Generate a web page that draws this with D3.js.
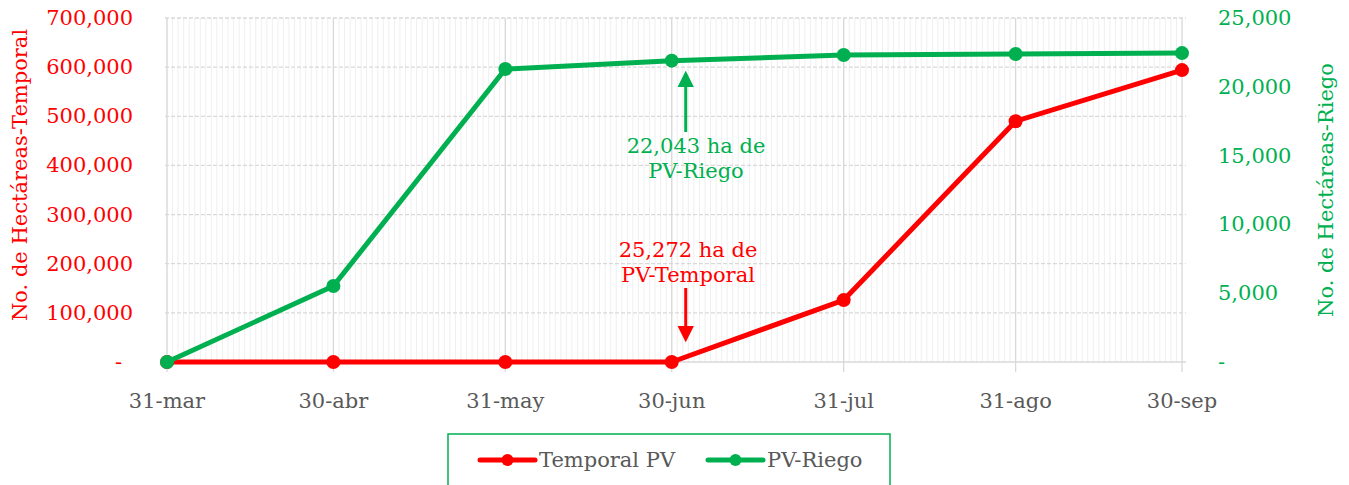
<!DOCTYPE html>
<html lang="es">
<head>
<meta charset="UTF-8">
<title>Temporal PV vs PV-Riego</title>
<script src="https://d3js.org/d3.v7.min.js"></script>
<style>
  body { margin: 0; background: #fff; }
  svg text { font-family: "DejaVu Serif", serif; }
</style>
</head>
<body>
<div id="chart"></div>
<script>
// data
const fechas = ["2021-03-31", "2021-04-30", "2021-05-31", "2021-06-30", "2021-07-31", "2021-08-31", "2021-09-30"];
const etiquetas = ["31-mar", "30-abr", "31-may", "30-jun", "31-jul", "31-ago", "30-sep"];
const temporalPV = [0, 0, 0, 0, 126000, 490000, 594000];
const pvRiego = [0, 5520, 21290, 21900, 22310, 22380, 22450];
const ticksIzq = [0, 100000, 200000, 300000, 400000, 500000, 600000, 700000];
const ticksDer = [0, 5000, 10000, 15000, 20000, 25000];

const width = 1349, height = 485;
const m = { left: 167, right: 1182, top: 18, bottom: 362 };
const rojo = "#FF0000", verde = "#00B050", gris = "#595959";
const fs = 21;

const svg = d3.select("#chart").append("svg")
  .attr("width", width).attr("height", height);

const dates = fechas.map(d => new Date(d + "T00:00:00Z"));
const x = d3.scaleUtc().domain([dates[0], dates[dates.length - 1]]).range([m.left, m.right]);
const yL = d3.scaleLinear().domain([0, 700000]).range([m.bottom, m.top]);
const yR = d3.scaleLinear().domain([0, 25000]).range([m.bottom, m.top]);
const fmt = d3.format(",");

// minor daily grid
svg.append("g").selectAll("line")
  .data(d3.utcDay.range(dates[0], dates[dates.length - 1]))
  .join("line")
  .attr("x1", d => x(d)).attr("x2", d => x(d))
  .attr("y1", m.top).attr("y2", m.bottom)
  .attr("stroke", "#efefef").attr("stroke-width", 1);

// horizontal dashed grid
svg.append("g").selectAll("line")
  .data(ticksIzq.slice(1))
  .join("line")
  .attr("x1", m.left - 2).attr("x2", m.right + 4)
  .attr("y1", d => yL(d)).attr("y2", d => yL(d))
  .attr("stroke", "#d9d9d9").attr("stroke-width", 1.3)
  .attr("stroke-dasharray", "4,2");

// major vertical grid + ticks
svg.append("g").selectAll("line")
  .data(dates)
  .join("line")
  .attr("x1", d => x(d)).attr("x2", d => x(d))
  .attr("y1", m.top).attr("y2", m.bottom + 10)
  .attr("stroke", "#d9d9d9").attr("stroke-width", 1.3);

// baseline
svg.append("line")
  .attr("x1", m.left - 2).attr("x2", m.right + 4)
  .attr("y1", m.bottom).attr("y2", m.bottom)
  .attr("stroke", "#d9d9d9").attr("stroke-width", 1.3);

// x labels
svg.append("g").selectAll("text")
  .data(dates)
  .join("text")
  .attr("x", d => x(d)).attr("y", 408)
  .attr("text-anchor", "middle")
  .attr("fill", gris).attr("font-size", fs)
  .text((d, i) => etiquetas[i]);

// left axis labels
svg.append("g").selectAll("text")
  .data(ticksIzq)
  .join("text")
  .attr("x", d => d === 0 ? 122 : 133).attr("y", d => yL(d) + 7)
  .attr("text-anchor", "end")
  .attr("fill", rojo).attr("font-size", fs)
  .text(d => d === 0 ? "-" : fmt(d));

// right axis labels
svg.append("g").selectAll("text")
  .data(ticksDer)
  .join("text")
  .attr("x", 1218).attr("y", d => yR(d) + 7)
  .attr("fill", verde).attr("font-size", fs)
  .text(d => d === 0 ? "-" : fmt(d));

// axis titles
svg.append("text")
  .attr("transform", `translate(27,${(m.top + m.bottom) / 2 - 15}) rotate(-90)`)
  .attr("text-anchor", "middle").attr("fill", rojo).attr("font-size", fs)
  .text("No. de Hectáreas-Temporal");
svg.append("text")
  .attr("transform", `translate(1333,${(m.top + m.bottom) / 2}) rotate(-90)`)
  .attr("text-anchor", "middle").attr("fill", verde).attr("font-size", fs)
  .text("No. de Hectáreas-Riego");

// series
const series = [
  { name: "Temporal PV", values: temporalPV, y: yL, color: rojo },
  { name: "PV-Riego", values: pvRiego, y: yR, color: verde }
];

series.forEach(s => {
  const line = d3.line().x((d, i) => x(dates[i])).y(d => s.y(d));
  svg.append("path")
    .attr("d", line(s.values))
    .attr("fill", "none").attr("stroke", s.color)
    .attr("stroke-width", 5).attr("stroke-linejoin", "round");
  svg.append("g").selectAll("circle")
    .data(s.values)
    .join("circle")
    .attr("cx", (d, i) => x(dates[i])).attr("cy", d => s.y(d))
    .attr("r", 7).attr("fill", s.color);
});

// annotations
const defs = svg.append("defs");
[["arrR", rojo], ["arrV", verde]].forEach(([id, c]) => {
  defs.append("marker").attr("id", id)
    .attr("viewBox", "0 0 10 10").attr("refX", 8).attr("refY", 5)
    .attr("markerWidth", 5.5).attr("markerHeight", 5.5)
    .attr("orient", "auto-start-reverse")
    .append("path").attr("d", "M0,0 L10,5 L0,10 z").attr("fill", c);
});

const ax = x(dates[3]) + 14;
svg.append("line")
  .attr("x1", ax).attr("x2", ax).attr("y1", 132).attr("y2", 74)
  .attr("stroke", verde).attr("stroke-width", 3).attr("marker-end", "url(#arrV)");
svg.append("line")
  .attr("x1", ax).attr("x2", ax).attr("y1", 288).attr("y2", 339)
  .attr("stroke", rojo).attr("stroke-width", 3).attr("marker-end", "url(#arrR)");

const annV = svg.append("text").attr("fill", verde).attr("font-size", fs).attr("text-anchor", "middle");
annV.append("tspan").attr("x", 696).attr("y", 153).text("22,043 ha de");
annV.append("tspan").attr("x", 696).attr("y", 178).text("PV-Riego");
const annR = svg.append("text").attr("fill", rojo).attr("font-size", fs).attr("text-anchor", "middle");
annR.append("tspan").attr("x", 688).attr("y", 257).text("25,272 ha de");
annR.append("tspan").attr("x", 688).attr("y", 282).text("PV-Temporal");

// legend
svg.append("rect")
  .attr("x", 448).attr("y", 434).attr("width", 442).attr("height", 70)
  .attr("fill", "none").attr("stroke", verde).attr("stroke-width", 1.5);
const leg = [{ x0: 480 }, { x0: 708 }];
series.forEach((s, i) => {
  const g = svg.append("g").attr("transform", `translate(${leg[i].x0},460)`);
  g.append("line").attr("x1", 0).attr("x2", 55).attr("stroke", s.color)
    .attr("stroke-width", 5).attr("stroke-linecap", "round");
  g.append("circle").attr("cx", 27.5).attr("r", 6).attr("fill", s.color);
  g.append("text").attr("x", 59).attr("y", 7).attr("fill", gris)
    .attr("font-size", fs).text(s.name);
});
</script>
</body>
</html>
